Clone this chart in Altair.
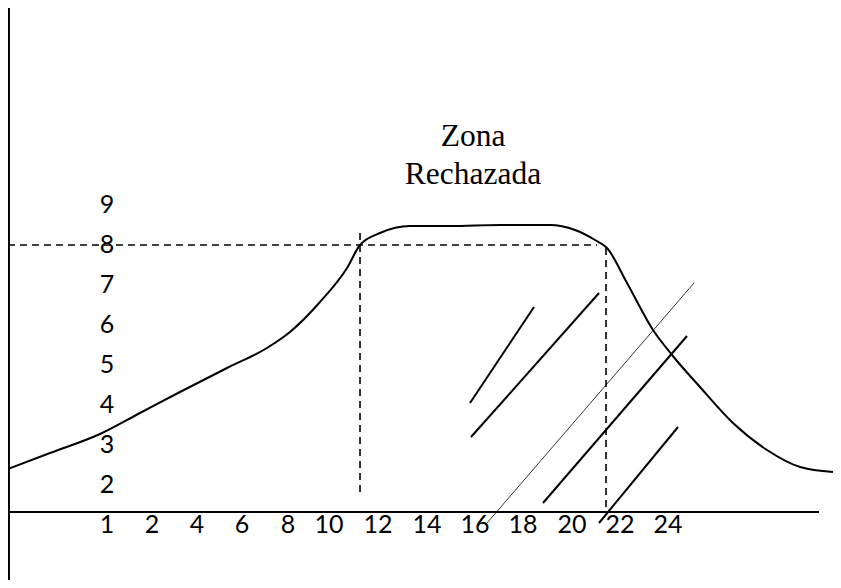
import altair as alt
import pandas as pd

# Drawing coordinates: x in "label slots" (tick "1" at 0, "24" at 12), y in value units (1..9)
X_DOMAIN = [-2.1176, 15.529]
Y_DOMAIN = [-0.375, 13.925]

# Main curve
curve_x = [-2.118, -1.219, -0.150, 0.706, 1.561, 2.567, 3.422, 3.914, 4.556, 5.134, 5.412,
           5.840, 6.481, 7.337, 8.406, 9.476, 10.011, 10.439, 10.695, 11.123, 11.679,
           12.086, 12.684, 13.390, 14.118, 14.824, 15.529]
curve_y = [2.40, 2.80, 3.275, 3.80, 4.325, 4.925, 5.425, 5.825, 6.575, 7.425, 8.0,
           8.30, 8.475, 8.475, 8.50, 8.50, 8.375, 8.125, 7.925, 7.05, 5.875,
           5.25, 4.45, 3.55, 2.875, 2.45, 2.325]

# Axis lines (solid)
axis_x = [-2.118, -2.097]
axis_x2 = [15.23, -2.097]
axis_y = [1.325, 14.2]
axis_y2 = [1.325, -0.6]

# Dashed reference lines
dash_x = [-2.118, 5.412, 10.674]
dash_x2 = [10.481, 5.412, 10.674]
dash_y = [8.0, 8.30, 7.925]
dash_y2 = [8.0, 1.825, 1.30]

# Hatch strokes (thick)
hatch_x = [7.765, 7.786, 9.326, 10.524]
hatch_x2 = [9.134, 10.524, 12.406, 12.214]
hatch_y = [4.05, 3.20, 1.55, 1.05]
hatch_y2 = [6.45, 6.80, 5.725, 3.45]

# Hatch stroke (thin)
thin_x = [8.128]
thin_x2 = [12.556]
thin_y = [1.05]
thin_y2 = [7.05]

# Tick labels
x_labels = ["1", "2", "4", "6", "8", "10", "12", "14", "16", "18", "20", "22", "24"]
x_label_pos = [0, 0.963, 1.925, 2.888, 3.872, 4.749, 5.797, 6.845, 7.872, 8.898, 9.947, 10.973, 12.0]
x_label_row = 1.0
y_labels = ["2", "3", "4", "5", "6", "7", "8", "9"]
y_label_vals = [2, 3, 4, 5, 6, 7, 8, 9]
y_label_col = 0.0

# Title text
title_lines = ["Zona", "Rechazada"]
title_x = [7.829, 7.829]
title_y = [10.70, 9.75]

xs = alt.Scale(domain=X_DOMAIN, nice=False, zero=False)
ys = alt.Scale(domain=Y_DOMAIN, nice=False, zero=False)

curve_df = pd.DataFrame({"x": curve_x, "y": curve_y})
curve = alt.Chart(curve_df).mark_line(color="black", strokeWidth=2, interpolate="monotone", clip=True).encode(
    x=alt.X("x:Q", scale=xs, axis=None),
    y=alt.Y("y:Q", scale=ys, axis=None),
)

def seg_layer(xa, xb, ya, yb, **kw):
    df = pd.DataFrame({"x": xa, "x2": xb, "y": ya, "y2": yb})
    return alt.Chart(df).mark_rule(color="black", **kw).encode(
        x=alt.X("x:Q", scale=xs, axis=None),
        x2="x2:Q",
        y=alt.Y("y:Q", scale=ys, axis=None),
        y2="y2:Q",
    )

axes = seg_layer(axis_x, axis_x2, axis_y, axis_y2, strokeWidth=2)
dashes = seg_layer(dash_x, dash_x2, dash_y, dash_y2, strokeWidth=1.6, strokeDash=[7, 5])
hatch = seg_layer(hatch_x, hatch_x2, hatch_y, hatch_y2, strokeWidth=2)
thin = seg_layer(thin_x, thin_x2, thin_y, thin_y2, strokeWidth=0.8)

lab_df = pd.DataFrame({
    "x": x_label_pos + [y_label_col] * len(y_labels),
    "y": [x_label_row] * len(x_labels) + y_label_vals,
    "t": x_labels + y_labels,
})
labels = alt.Chart(lab_df).mark_text(font="Lato", fontSize=25, color="black", baseline="middle", align="center").encode(
    x=alt.X("x:Q", scale=xs, axis=None),
    y=alt.Y("y:Q", scale=ys, axis=None),
    text="t:N",
)

title_df = pd.DataFrame({"x": title_x, "y": title_y, "t": title_lines})
title = alt.Chart(title_df).mark_text(font="Liberation Serif, Times New Roman, DejaVu Serif, serif", fontSize=31.5,
                                      color="black", baseline="middle", align="center").encode(
    x=alt.X("x:Q", scale=xs, axis=None),
    y=alt.Y("y:Q", scale=ys, axis=None),
    text="t:N",
)

chart = alt.layer(dashes, curve, axes, hatch, thin, labels, title).properties(
    width=825, height=572, padding=0, autosize="none"
).configure(background="white").configure_view(strokeWidth=0, stroke="white")

chart.save("out.html", embed_options={"renderer": "svg", "actions": False})
